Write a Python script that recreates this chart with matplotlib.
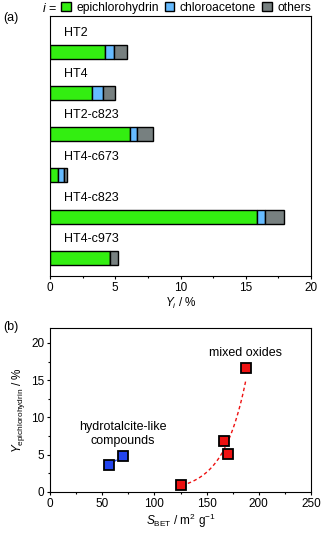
import matplotlib
matplotlib.use('Agg')
import matplotlib.pyplot as plt
from matplotlib.patches import Patch
import numpy as np

plt.rcParams['font.family'] = ['Liberation Sans', 'DejaVu Sans']
plt.rcParams['font.size'] = 8
plt.rcParams['mathtext.fontset'] = 'custom'
plt.rcParams['mathtext.rm'] = 'Liberation Sans'
plt.rcParams['mathtext.it'] = 'Liberation Sans:italic'

# (a) rendimentos por catalisador
catalisadores = ['HT2', 'HT4', 'HT2-c823', 'HT4-c673', 'HT4-c823', 'HT4-c973']
epicloridrina = [4.24, 3.22, 6.13, 0.61, 15.86, 4.60]
cloroacetona = [0.69, 0.82, 0.54, 0.44, 0.62, 0.0]
outros = [0.97, 0.94, 1.20, 0.25, 1.42, 0.64]
series = ['epichlorohydrin', 'chloroacetone', 'others']
cores = ['#33ee11', '#66bbff', '#778080']

# (b) rendimento vs área BET
s_ht = [56.5, 70.2]
y_ht = [3.66, 4.87]
s_ox = [125.8, 167.0, 170.8, 187.4]
y_ox = [0.89, 6.8, 5.14, 16.6]

fig = plt.figure(figsize=(3.22, 5.33), dpi=100)

W, H = 322, 533
def px_axes(l, t, r, b):
    return fig.add_axes([l / W, 1 - b / H, (r - l) / W, (b - t) / H])

ax1 = px_axes(50, 16, 311, 276)
pos = np.arange(len(catalisadores))
esq = np.zeros(len(catalisadores))
for vals, cor in zip([epicloridrina, cloroacetona, outros], cores):
    ax1.barh(pos, vals, left=esq, height=0.34, color=cor, edgecolor='black', linewidth=1)
    esq = esq + np.array(vals)
for p, nome in zip(pos, catalisadores):
    ax1.text(1.07, p - 0.46, nome, va='center', ha='left', fontsize=9)
ax1.set_ylim(5.44, -0.87)
ax1.set_xlim(0, 20)
ax1.set_yticks([])
ax1.set_xticks([0, 5, 10, 15, 20])
ax1.set_xticks(np.arange(2.5, 20, 5), minor=True)
ax1.tick_params(axis='x', which='major', length=2.5, width=0.8, pad=1.5, labelsize=8.5)
ax1.tick_params(axis='x', which='minor', length=1.5, width=0.8)
ax1.set_xlabel(r'$Y_i$ / %', fontsize=8.5, labelpad=1.5)

handles = [Patch(facecolor=c, edgecolor='black', linewidth=1) for c in cores]
fig.legend(handles, series, loc='upper left', bbox_to_anchor=(61 / W, 1 - 2 / H),
           ncol=3, frameon=False, fontsize=8.7, handlelength=0.8, handleheight=0.8,
           handletextpad=0.45, columnspacing=0.5, borderpad=0, borderaxespad=0)
fig.text(42 / W, 1 - 9 / H, r'$i$ =', fontsize=9, va='center', ha='left')
fig.text(3 / W, 1 - 18 / H, '(a)', fontsize=9, va='center')
fig.text(3 / W, 1 - 327 / H, '(b)', fontsize=9, va='center')

ax2 = px_axes(50, 328, 311, 492)
# ajuste exponencial dos óxidos mistos
b, a = np.polyfit(s_ox, np.log(y_ox), 1)
xf = np.linspace(132, 187.4, 100)
ax2.plot(xf, np.exp(a + b * xf), '--', color='#ee1111', lw=1, dashes=(2.5, 2))
ax2.plot(s_ht, y_ht, '--', color='#2244ee', lw=1, dashes=(2.5, 1.5))
ax2.plot(s_ht, y_ht, 's', color='#2244ee', mec='black', mew=1.3, ms=7.3)
ax2.plot(s_ox, y_ox, 's', color='#ee1111', mec='black', mew=1.3, ms=7.3)
ax2.text(69.6, 7.8, 'hydrotalcite-like\ncompounds', ha='center', va='center',
         fontsize=9, linespacing=1.2)
ax2.text(187.6, 18.6, 'mixed oxides', ha='center', va='center', fontsize=9)
ax2.set_xlim(0, 250)
ax2.set_ylim(0, 22)
ax2.set_xticks(range(0, 251, 50))
ax2.set_xticks(range(25, 250, 50), minor=True)
ax2.set_yticks(range(0, 21, 5))
ax2.set_yticks(np.arange(2.5, 20, 5), minor=True)
ax2.tick_params(which='major', length=2.5, width=0.8, pad=1.5, labelsize=8.5)
ax2.tick_params(which='minor', length=1.5, width=0.8)
ax2.set_xlabel(r'$S_{\mathrm{BET}}$ / m$^2$ g$^{-1}$', fontsize=8.5, labelpad=1.5)
ax2.set_ylabel(r'$Y_{\mathrm{epichlorohydrin}}$ / %', fontsize=8.5, labelpad=3)

fig.savefig('out.png', dpi=100)
